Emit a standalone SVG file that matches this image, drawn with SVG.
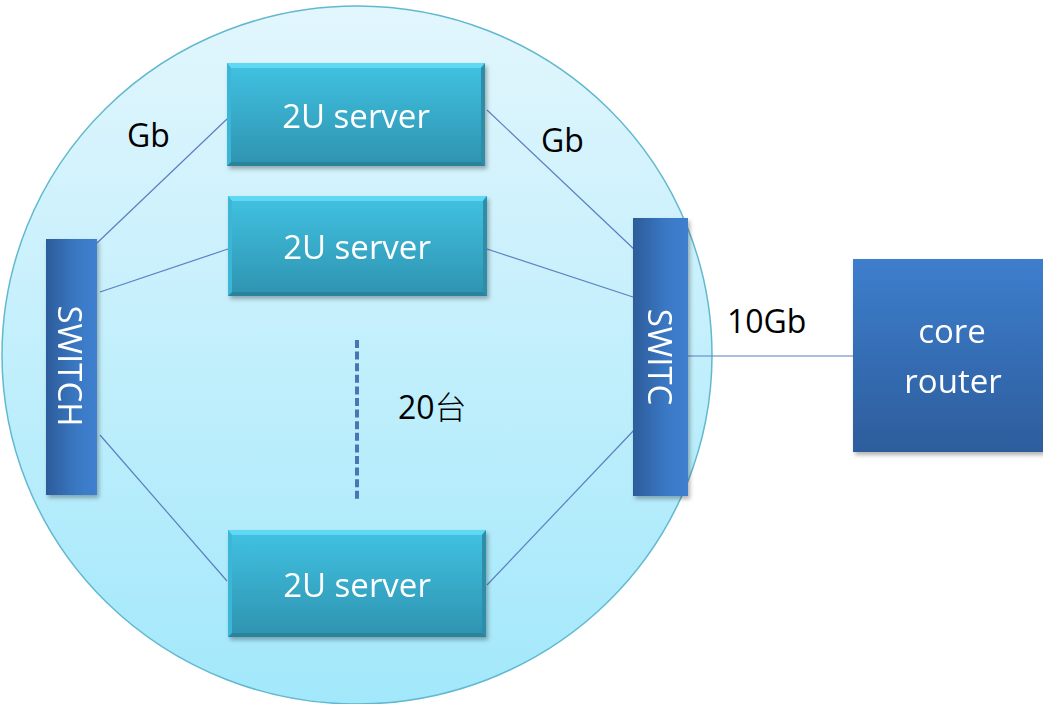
<svg xmlns="http://www.w3.org/2000/svg" width="1043" height="704" viewBox="0 0 1043 704">
<style>
.lbl{font-family:"Open Sans","Liberation Sans","Noto Sans CJK SC",sans-serif;font-size:32px;fill:#000}
.wt{font-family:"Open Sans","Liberation Sans",sans-serif;font-size:33px;fill:#fff}
.conn{stroke:#5b7fc2;stroke-width:1.2;fill:none}
.bt{fill:#5fd9f3}
.br{fill:#2d8eaa}
.bb{fill:#2b829c}
.bl{fill:#3bb6d6}
</style>
<defs>
<linearGradient id="gCircle" x1="0" y1="0" x2="0" y2="1">
<stop offset="0" stop-color="#e2f6fd"/>
<stop offset="1" stop-color="#a2e8fb"/>
</linearGradient>
<linearGradient id="gServer" x1="0" y1="0" x2="0" y2="1">
<stop offset="0" stop-color="#41c2e2"/>
<stop offset="1" stop-color="#2e93b0"/>
</linearGradient>
<linearGradient id="gSwitch" x1="0" y1="0" x2="1" y2="0">
<stop offset="0" stop-color="#2c5c9a"/>
<stop offset="0.6" stop-color="#3a78c4"/>
<stop offset="1" stop-color="#3f80cf"/>
</linearGradient>
<linearGradient id="gRouter" x1="0" y1="0" x2="0" y2="1">
<stop offset="0" stop-color="#3d7ecd"/>
<stop offset="1" stop-color="#2d5d9c"/>
</linearGradient>
<filter id="sh" x="-10%" y="-10%" width="130%" height="130%">
<feDropShadow dx="2" dy="3" stdDeviation="2" flood-color="#000" flood-opacity="0.3"/>
</filter>
</defs>

<g id="cluster">
<ellipse cx="357" cy="355" rx="355" ry="349" fill="url(#gCircle)" stroke="#62b9cf" stroke-width="1.5"/>
</g>

<g id="connectors">
<line class="conn" x1="97" y1="243" x2="227" y2="119" stroke="#7d9bd0"/>
<line class="conn" x1="100" y1="292" x2="228" y2="249"/>
<line class="conn" x1="100" y1="435" x2="227" y2="581"/>
<line class="conn" x1="487" y1="110" x2="636" y2="251"/>
<line class="conn" x1="487" y1="249" x2="636" y2="298"/>
<line class="conn" x1="487" y1="585" x2="636" y2="428"/>
<line class="conn" x1="688" y1="356" x2="853" y2="356" stroke="#5d86c6"/>
<line x1="357" y1="340" x2="357" y2="502" stroke="#4a76b6" stroke-width="4" stroke-dasharray="8,3.6"/>
</g>

<g id="server1" filter="url(#sh)">
<rect x="227" y="63" width="258" height="103" fill="url(#gServer)"/>
<polygon class="bt" points="227,63 485,63 481,68 231,68"/>
<polygon class="br" points="485,63 485,166 481,162 481,68"/>
<polygon class="bb" points="227,166 485,166 481,162 231,162"/>
<polygon class="bl" points="227,63 231,68 231,162 227,166"/>
<text class="wt" x="356" y="128" text-anchor="middle">2U server</text>
</g>

<g id="server2" filter="url(#sh)">
<rect x="228" y="196" width="259" height="100" fill="url(#gServer)"/>
<polygon class="bt" points="228,196 487,196 483,201 232,201"/>
<polygon class="br" points="487,196 487,296 483,292 483,201"/>
<polygon class="bb" points="228,296 487,296 483,292 232,292"/>
<polygon class="bl" points="228,196 232,201 232,292 228,296"/>
<text class="wt" x="357" y="259" text-anchor="middle">2U server</text>
</g>

<g id="server3" filter="url(#sh)">
<rect x="228" y="530" width="258" height="107" fill="url(#gServer)"/>
<polygon class="bt" points="228,530 486,530 482,535 232,535"/>
<polygon class="br" points="486,530 486,637 482,633 482,535"/>
<polygon class="bb" points="228,637 486,637 482,633 232,633"/>
<polygon class="bl" points="228,530 232,535 232,633 228,637"/>
<text class="wt" x="357" y="597" text-anchor="middle">2U server</text>
</g>

<g id="switch-left" filter="url(#sh)">
<rect x="46" y="239" width="51" height="256" fill="url(#gSwitch)"/>
<text class="wt" transform="translate(58,366) rotate(90)" text-anchor="middle">SWITCH</text>
</g>

<g id="switch-right" filter="url(#sh)">
<rect x="633" y="218" width="55" height="278" fill="url(#gSwitch)"/>
<text class="wt" transform="translate(648,357) rotate(90)" text-anchor="middle">SWITC</text>
</g>

<g id="core-router" filter="url(#sh)">
<rect x="853" y="259" width="200" height="193" fill="url(#gRouter)"/>
<text class="wt" x="952" y="343" text-anchor="middle">core</text>
<text class="wt" x="953" y="393" text-anchor="middle">router</text>
</g>

<g id="labels">
<text class="lbl" x="127" y="147">Gb</text>
<text class="lbl" x="541" y="152">Gb</text>
<text class="lbl" x="727" y="333">10Gb</text>
<text class="lbl" x="398" y="419">20<tspan font-family="'Noto Sans CJK SC',sans-serif" font-weight="300">台</tspan></text>
</g>
</svg>
